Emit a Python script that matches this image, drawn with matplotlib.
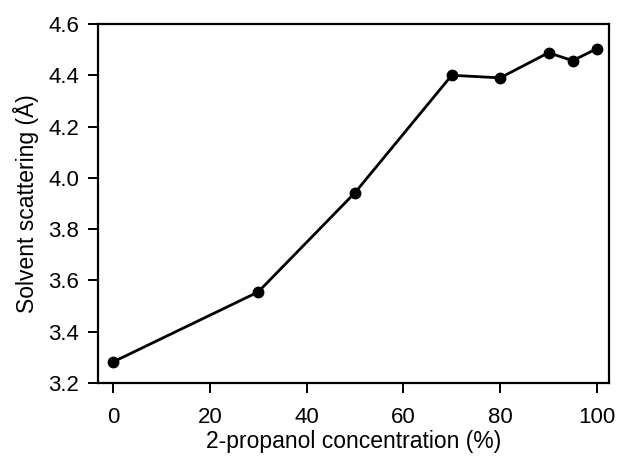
import matplotlib
matplotlib.use("Agg")
import matplotlib.pyplot as plt

concentration = [0, 30, 50, 70, 80, 90, 95, 100]
scattering = [3.282, 3.555, 3.942, 4.400, 4.390, 4.488, 4.457, 4.504]
xticks = [0, 20, 40, 60, 80, 100]
yticks = [3.2, 3.4, 3.6, 3.8, 4.0, 4.2, 4.4, 4.6]

plt.rcParams['font.family'] = ['Liberation Sans', 'DejaVu Sans']

fig = plt.figure(figsize=(6.19, 4.58), dpi=100)
W, H = 619, 458
left, right, top, bottom = 98, 609, 24, 383
ax = fig.add_axes([left / W, 1 - bottom / H, (right - left) / W, (bottom - top) / H])
ax.plot(concentration, scattering, color='black', lw=2.0, marker='o', ms=7.5)
ax.set_xlim(-3.1, 102.5)
ax.set_ylim(3.2, 4.6)
ax.set_xticks(xticks)
ax.set_yticks(yticks)
ax.set_yticklabels([f"{v:.1f}" for v in yticks])
ax.tick_params(axis='both', direction='out', length=7.5, width=1.4, labelsize=16, colors='black')
ax.tick_params(axis='x', pad=10)
ax.tick_params(axis='y', pad=6)
for s in ax.spines.values():
    s.set_linewidth(1.6)
ax.set_xlabel("2-propanol concentration (%)", fontsize=16.5, labelpad=1)
ax.set_ylabel("Solvent scattering (Å)", fontsize=16.5, labelpad=7)
fig.savefig("out.png", dpi=100)
